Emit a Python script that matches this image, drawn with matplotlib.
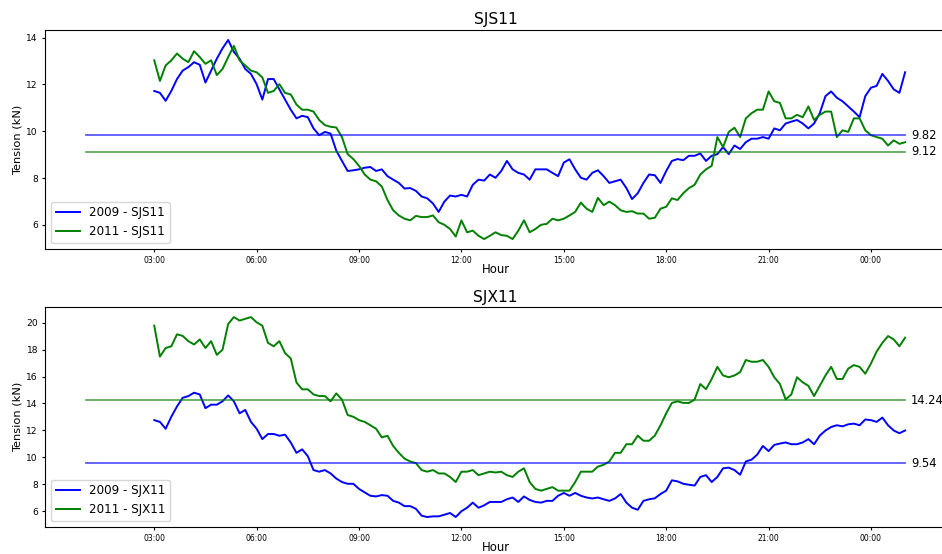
import pandas as pd
import matplotlib
matplotlib.use('Agg')
import matplotlib.pyplot as plt
import matplotlib.dates as mdates

# tension readings every 10 minutes, 03:00 -> 01:00 (one row per hour)
sjs_2009 = [
    11.72, 11.64, 11.30, 11.72, 12.23, 12.59,  # 03h
    12.74, 12.95, 12.84, 12.08, 12.59, 13.10,  # 04h
    13.54, 13.90, 13.39, 13.10, 12.66, 12.45,  # 05h
    12.01, 11.35, 12.23, 12.23, 11.79, 11.35,  # 06h
    10.92, 10.55, 10.66, 10.60, 10.12, 9.83,   # 07h
    9.97, 9.90, 9.17, 8.73, 8.30, 8.33,        # 08h
    8.37, 8.44, 8.47, 8.30, 8.37, 8.08,        # 09h
    7.93, 7.79, 7.55, 7.57, 7.45, 7.21,        # 10h
    7.13, 6.91, 6.55, 6.99, 7.25, 7.21,        # 11h
    7.28, 7.21, 7.71, 7.93, 7.89, 8.15,        # 12h
    8.01, 8.30, 8.73, 8.37, 8.22, 8.15,        # 13h
    7.93, 8.37, 8.37, 8.37, 8.22, 8.08,        # 14h
    8.66, 8.80, 8.37, 8.01, 7.93, 8.22,        # 15h
    8.33, 8.08, 7.79, 7.86, 7.93, 7.57,        # 16h
    7.10, 7.35, 7.79, 8.15, 8.12, 7.79,        # 17h
    8.30, 8.73, 8.81, 8.76, 8.95, 8.95,        # 18h
    9.05, 8.73, 8.95, 9.02, 9.32, 9.02,        # 19h
    9.39, 9.24, 9.53, 9.68, 9.68, 9.75,        # 20h
    9.68, 10.12, 10.04, 10.33, 10.41, 10.48,   # 21h
    10.33, 10.12, 10.33, 10.77, 11.50, 11.70,  # 22h
    11.43, 11.28, 11.06, 10.84, 10.60, 11.50,  # 23h
    11.86, 11.94, 12.45, 12.15, 11.79, 11.64,  # 00h
    12.52,
]
sjs_2011 = [
    13.03, 12.15, 12.81, 13.03, 13.32, 13.10,  # 03h
    12.95, 13.42, 13.17, 12.88, 13.03, 12.40,  # 04h
    12.66, 13.17, 13.65, 13.03, 12.81, 12.59,  # 05h
    12.52, 12.30, 11.64, 11.72, 12.01, 11.64,  # 06h
    11.57, 11.14, 10.92, 10.92, 10.84, 10.48,  # 07h
    10.26, 10.19, 10.16, 9.75, 9.02, 8.81,     # 08h
    8.52, 8.15, 7.93, 7.86, 7.64, 7.06,        # 09h
    6.62, 6.40, 6.26, 6.19, 6.38, 6.33,        # 10h
    6.33, 6.40, 6.11, 6.00, 5.82, 5.50,        # 11h
    6.19, 5.68, 5.75, 5.53, 5.39, 5.53,        # 12h
    5.68, 5.56, 5.53, 5.39, 5.75, 6.19,        # 13h
    5.68, 5.82, 6.00, 6.04, 6.26, 6.19,        # 14h
    6.26, 6.40, 6.55, 6.95, 6.69, 6.55,        # 15h
    7.15, 6.84, 6.99, 6.84, 6.62, 6.55,        # 16h
    6.58, 6.48, 6.48, 6.26, 6.30, 6.69,        # 17h
    6.77, 7.13, 7.06, 7.35, 7.57, 7.71,        # 18h
    8.15, 8.37, 8.52, 9.75, 9.32, 9.97,        # 19h
    10.15, 9.75, 10.55, 10.77, 10.92, 10.92,   # 20h
    11.70, 11.28, 11.21, 10.55, 10.55, 10.70,  # 21h
    10.60, 11.06, 10.48, 10.70, 10.84, 10.84,  # 22h
    9.75, 10.04, 9.97, 10.55, 10.55, 10.04,    # 23h
    9.83, 9.75, 9.68, 9.39, 9.61, 9.46,        # 00h
    9.53,
]
sjx_2009 = [
    12.76, 12.63, 12.12, 13.01, 13.78, 14.42,  # 03h
    14.55, 14.80, 14.67, 13.65, 13.91, 13.91,  # 04h
    14.16, 14.60, 14.16, 13.27, 13.52, 12.63,  # 05h
    12.12, 11.35, 11.73, 11.73, 11.60, 11.68,  # 06h
    11.10, 10.33, 10.59, 10.08, 9.05, 8.93,    # 07h
    9.05, 8.80, 8.42, 8.16, 8.03, 8.03,        # 08h
    7.65, 7.39, 7.14, 7.09, 7.19, 7.14,        # 09h
    6.76, 6.63, 6.37, 6.37, 6.17, 5.66,        # 10h
    5.56, 5.61, 5.61, 5.73, 5.86, 5.56,        # 11h
    5.99, 6.25, 6.63, 6.25, 6.43, 6.68,        # 12h
    6.68, 6.68, 6.88, 7.01, 6.68, 7.09,        # 13h
    6.83, 6.68, 6.63, 6.76, 6.76, 7.14,        # 14h
    7.35, 7.14, 7.35, 7.14, 7.01, 6.94,        # 15h
    7.01, 6.88, 6.76, 6.94, 7.27, 6.63,        # 16h
    6.25, 6.10, 6.76, 6.88, 6.95, 7.27,        # 17h
    7.52, 8.29, 8.21, 8.03, 7.96, 7.90,        # 18h
    8.54, 8.67, 8.16, 8.54, 9.18, 9.23,        # 19h
    9.05, 8.70, 9.69, 9.82, 10.20, 10.84,      # 20h
    10.46, 10.92, 11.02, 11.10, 10.97, 10.97,  # 21h
    11.10, 11.35, 10.97, 11.61, 11.99, 12.25,  # 22h
    12.38, 12.30, 12.45, 12.50, 12.38, 12.81,  # 23h
    12.76, 12.63, 12.95, 12.38, 11.99, 11.79,  # 00h
    11.99,
]
sjx_2011 = [
    19.78, 17.48, 18.12, 18.25, 19.14, 19.02,  # 03h
    18.63, 18.38, 18.76, 18.12, 18.63, 17.61,  # 04h
    17.99, 19.91, 20.42, 20.16, 20.29, 20.42,  # 05h
    20.03, 19.78, 18.50, 18.25, 18.63, 17.74,  # 06h
    17.35, 15.56, 15.05, 15.05, 14.67, 14.55,  # 07h
    14.55, 14.16, 14.75, 14.29, 13.14, 13.01,  # 08h
    12.76, 12.63, 12.38, 12.12, 11.48, 11.60,  # 09h
    10.84, 10.33, 9.90, 9.69, 9.57, 9.05,      # 10h
    8.93, 9.05, 8.80, 8.80, 8.54, 8.16,        # 11h
    8.93, 8.93, 9.05, 8.67, 8.80, 8.93,        # 12h
    8.87, 8.93, 8.67, 8.54, 8.93, 9.18,        # 13h
    8.16, 7.65, 7.52, 7.65, 7.78, 7.52,        # 14h
    7.52, 7.52, 8.16, 8.93, 8.93, 8.93,        # 15h
    9.31, 9.44, 9.69, 10.33, 10.33, 10.97,     # 16h
    10.97, 11.61, 11.23, 11.23, 11.61, 12.38,  # 17h
    13.27, 14.04, 14.16, 14.04, 14.04, 14.29,  # 18h
    15.44, 15.06, 15.82, 16.72, 16.08, 15.95,  # 19h
    16.08, 16.33, 17.23, 17.10, 17.10, 17.23,  # 20h
    16.72, 15.95, 15.44, 14.30, 14.67, 15.95,  # 21h
    15.57, 15.31, 14.55, 15.31, 16.08, 16.72,  # 22h
    15.82, 15.82, 16.59, 16.85, 16.72, 16.21,  # 23h
    16.97, 17.86, 18.50, 19.01, 18.76, 18.25,  # 00h
    18.89,
]

# daily means
sjs_mean_2009, sjs_mean_2011 = 9.82, 9.12
sjx_mean_2009, sjx_mean_2011 = 9.54, 14.24

times = pd.date_range('2000-01-01 03:00', '2000-01-02 01:00', freq='10min')
day_span = [pd.Timestamp('2000-01-01 01:00'), pd.Timestamp('2000-01-02 01:00')]
tick_times = pd.date_range('2000-01-01 03:00', '2000-01-02 00:00', freq='3h')

panels = [
    ('SJS11', sjs_2009, sjs_2011, sjs_mean_2009, sjs_mean_2011),
    ('SJX11', sjx_2009, sjx_2011, sjx_mean_2009, sjx_mean_2011),
]

fig = plt.figure(figsize=(9.42, 5.54), dpi=100)
axes = [fig.add_axes([0.0478, 0.5505, 0.9565, 0.3953]),
        fig.add_axes([0.0478, 0.0487, 0.9565, 0.3970])]

for ax, (name, v2009, v2011, m2009, m2011) in zip(axes, panels):
    ax.plot(times, v2009, color='blue', lw=1.4, label='2009 - ' + name)
    ax.plot(times, v2011, color='green', lw=1.4, label='2011 - ' + name)

    for m, c in [(m2009, 'blue'), (m2011, 'green')]:
        ax.plot(day_span, [m, m], color=c, alpha=0.7, lw=1.2)
        ax.text(mdates.date2num(day_span[1] + pd.Timedelta(minutes=10)), m,
                '%.2f' % m, va='center', ha='left', fontsize=8.3)

    ax.set_xticks(tick_times)
    ax.xaxis.set_major_formatter(mdates.DateFormatter('%H:%M'))
    ax.tick_params(axis='x', labelsize=5.5, length=2.5, pad=2.5)
    ax.tick_params(axis='y', labelsize=6.6, length=2.5, pad=2.5)

    ax.set_title(name, fontsize=11.2, pad=4)
    ax.set_xlabel('Hour', fontsize=8.4, labelpad=-1.2)
    ax.set_ylabel('Tension (kN)', fontsize=8.2, labelpad=3)
    ax.legend(loc='lower left', fontsize=8.6)

fig.savefig('out.png', dpi=100)
